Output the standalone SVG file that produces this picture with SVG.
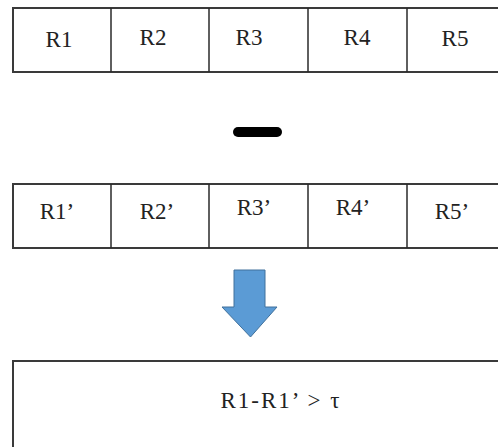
<svg xmlns="http://www.w3.org/2000/svg" width="498" height="447" viewBox="0 0 498 447">
<style>
.box{fill:#fff;stroke:#3a3a3a;stroke-width:2}
.div{stroke:#2a2a2a;stroke-width:1.5}
.t{font-family:"Liberation Serif","Times New Roman",serif;font-size:23px;fill:#222;text-anchor:middle}
</style>
<rect width="498" height="447" fill="#fff"/>
<g id="row1">
<rect class="box" x="13" y="8" width="500" height="64"/>
<line class="div" x1="111" y1="8" x2="111" y2="72"/>
<line class="div" x1="209" y1="8" x2="209" y2="72"/>
<line class="div" x1="308" y1="8" x2="308" y2="72"/>
<line class="div" x1="407" y1="8" x2="407" y2="72"/>
<text class="t" x="59" y="47">R1</text>
<text class="t" x="153" y="45">R2</text>
<text class="t" x="249" y="45">R3</text>
<text class="t" x="357" y="45">R4</text>
<text class="t" x="455" y="46">R5</text>
</g>
<g id="minus">
<rect x="233" y="127" width="49" height="10" rx="5" fill="#000"/>
</g>
<g id="row2">
<rect class="box" x="13" y="184" width="500" height="64"/>
<line class="div" x1="111" y1="184" x2="111" y2="248"/>
<line class="div" x1="209" y1="184" x2="209" y2="248"/>
<line class="div" x1="308" y1="184" x2="308" y2="248"/>
<line class="div" x1="407" y1="184" x2="407" y2="248"/>
<text class="t" x="57" y="219">R1’</text>
<text class="t" x="157" y="219">R2’</text>
<text class="t" x="254" y="215">R3’</text>
<text class="t" x="353" y="215">R4’</text>
<text class="t" x="452" y="219">R5’</text>
</g>
<g id="arrow">
<path d="M234,270 H265 V307 H277 L250.5,337 L222,307 H234 Z" fill="#5B9BD5" stroke="#41719C" stroke-width="1"/>
</g>
<g id="result">
<rect class="box" x="13" y="361" width="500" height="100"/>
<text class="t" x="281" y="408" letter-spacing="2">R1-R1’ &gt; τ</text>
</g>
</svg>
